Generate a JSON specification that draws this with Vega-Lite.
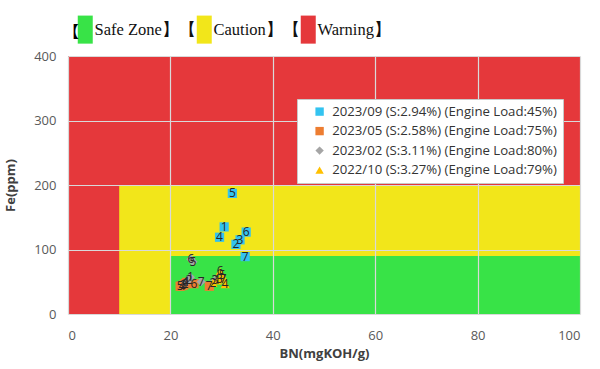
{
  "$schema": "https://vega.github.io/schema/vega-lite/v6.json",
  "width": 512,
  "height": 258,
  "autosize": {"type": "none"},
  "padding": {"left": 68, "top": 56, "right": 20, "bottom": 55},
  "background": "white",
  "config": {"view": {"stroke": null}},
  "datasets": {
    "zones": [
      {"zone": "Warning", "x0": 0, "x1": 100, "y0": 0, "y1": 400},
      {"zone": "Caution", "x0": 10, "x1": 100, "y0": 0, "y1": 200},
      {"zone": "Safe Zone", "x0": 20, "x1": 100, "y0": 0, "y1": 90}
    ],
    "pts": [
      {"s": "2023/09 (S:2.94%) (Engine Load:45%)", "n": 1, "bn": 30.5, "fe": 135},
      {"s": "2023/09 (S:2.94%) (Engine Load:45%)", "n": 2, "bn": 32.8, "fe": 108},
      {"s": "2023/09 (S:2.94%) (Engine Load:45%)", "n": 3, "bn": 33.6, "fe": 115},
      {"s": "2023/09 (S:2.94%) (Engine Load:45%)", "n": 4, "bn": 29.6, "fe": 119},
      {"s": "2023/09 (S:2.94%) (Engine Load:45%)", "n": 5, "bn": 32.1, "fe": 187},
      {"s": "2023/09 (S:2.94%) (Engine Load:45%)", "n": 6, "bn": 34.8, "fe": 127},
      {"s": "2023/09 (S:2.94%) (Engine Load:45%)", "n": 7, "bn": 34.6, "fe": 89},
      {"s": "2023/05 (S:2.58%) (Engine Load:75%)", "n": 1, "bn": 23.2, "fe": 49},
      {"s": "2023/05 (S:2.58%) (Engine Load:75%)", "n": 2, "bn": 22.9, "fe": 47},
      {"s": "2023/05 (S:2.58%) (Engine Load:75%)", "n": 3, "bn": 22.6, "fe": 45},
      {"s": "2023/05 (S:2.58%) (Engine Load:75%)", "n": 4, "bn": 22.3, "fe": 44},
      {"s": "2023/05 (S:2.58%) (Engine Load:75%)", "n": 5, "bn": 21.9, "fe": 43},
      {"s": "2023/05 (S:2.58%) (Engine Load:75%)", "n": 6, "bn": 24.6, "fe": 47},
      {"s": "2023/05 (S:2.58%) (Engine Load:75%)", "n": 7, "bn": 27.6, "fe": 43},
      {"s": "2023/02 (S:3.11%) (Engine Load:80%)", "n": 1, "bn": 23.9, "fe": 57},
      {"s": "2023/02 (S:3.11%) (Engine Load:80%)", "n": 2, "bn": 23.6, "fe": 53},
      {"s": "2023/02 (S:3.11%) (Engine Load:80%)", "n": 3, "bn": 28.7, "fe": 52},
      {"s": "2023/02 (S:3.11%) (Engine Load:80%)", "n": 4, "bn": 23.0, "fe": 49},
      {"s": "2023/02 (S:3.11%) (Engine Load:80%)", "n": 5, "bn": 24.4, "fe": 81},
      {"s": "2023/02 (S:3.11%) (Engine Load:80%)", "n": 6, "bn": 24.0, "fe": 85},
      {"s": "2023/02 (S:3.11%) (Engine Load:80%)", "n": 7, "bn": 26.0, "fe": 50},
      {"s": "2022/10 (S:3.27%) (Engine Load:79%)", "n": 1, "bn": 29.2, "fe": 52},
      {"s": "2022/10 (S:3.27%) (Engine Load:79%)", "n": 2, "bn": 28.3, "fe": 48},
      {"s": "2022/10 (S:3.27%) (Engine Load:79%)", "n": 3, "bn": 29.6, "fe": 54},
      {"s": "2022/10 (S:3.27%) (Engine Load:79%)", "n": 4, "bn": 30.7, "fe": 46},
      {"s": "2022/10 (S:3.27%) (Engine Load:79%)", "n": 5, "bn": 30.1, "fe": 60},
      {"s": "2022/10 (S:3.27%) (Engine Load:79%)", "n": 6, "bn": 29.7, "fe": 66},
      {"s": "2022/10 (S:3.27%) (Engine Load:79%)", "n": 7, "bn": 30.3, "fe": 55}
    ]
  },
  "layer": [
    {
      "data": {"name": "zones"},
      "mark": {"type": "rect"},
      "encoding": {
        "x": {
          "field": "x0", "type": "quantitative",
          "scale": {"domain": [0, 100], "nice": false},
          "axis": {
            "title": "BN(mgKOH/g)", "values": [0, 20, 40, 60, 80, 100],
            "grid": true, "gridColor": "#D9D9D9", "gridWidth": 1.2,
            "domain": false, "ticks": false, "zindex": 1,
            "labelFont": "Open Sans", "labelFontSize": 13, "labelColor": "#595959", "labelPadding": 15,
            "titleFont": "Open Sans", "titleFontSize": 13, "titleFontWeight": "bold", "titleColor": "#404040", "titlePadding": 5
          }
        },
        "x2": {"field": "x1"},
        "y": {
          "field": "y0", "type": "quantitative",
          "scale": {"domain": [0, 400], "nice": false},
          "axis": {
            "title": "Fe(ppm)", "values": [0, 100, 200, 300, 400],
            "grid": true, "gridColor": "#D9D9D9", "gridWidth": 1.2,
            "domain": false, "ticks": false, "zindex": 1,
            "labelFont": "Open Sans", "labelFontSize": 13, "labelColor": "#595959", "labelPadding": 12,
            "titleFont": "Open Sans", "titleFontSize": 13, "titleFontWeight": "bold", "titleColor": "#404040", "titlePadding": 16
          }
        },
        "y2": {"field": "y1"},
        "fill": {
          "field": "zone", "type": "nominal",
          "scale": {"domain": ["Safe Zone", "Caution", "Warning"], "range": ["#38E347", "#F2E61A", "#E5383B"]},
          "legend": {
            "orient": "none", "legendX": -5, "legendY": -35, "direction": "horizontal", "zindex": 2,
            "title": "【", "titleOrient": "left", "titleFont": "Noto Sans CJK JP", "titleFontSize": 16,
            "titleFontWeight": "normal", "titleColor": "#000", "titlePadding": -3,
            "labelFont": "Liberation Serif", "labelFontSize": 16.5, "labelColor": "#111",
            "labelExpr": "datum.label == 'Warning' ? 'Warning】' : datum.label + '】【'",
            "symbolType": "M-1,-1.87H1V1.87H-1Z", "symbolSize": 225, "symbolStrokeWidth": 0,
            "symbolOpacity": 1, "labelOffset": 1, "columnPadding": 0, "padding": 0, "labelLimit": 300
          }
        }
      }
    },
    {
      "data": {"name": "pts"},
      "mark": {"type": "point", "filled": true, "opacity": 1, "size": 85},
      "encoding": {
        "x": {"field": "bn", "type": "quantitative"},
        "y": {"field": "fe", "type": "quantitative"},
        "color": {
          "field": "s", "type": "nominal",
          "scale": {
            "domain": ["2023/09 (S:2.94%) (Engine Load:45%)", "2023/05 (S:2.58%) (Engine Load:75%)", "2023/02 (S:3.11%) (Engine Load:80%)", "2022/10 (S:3.27%) (Engine Load:79%)"],
            "range": ["#33C3F0", "#ED7D31", "#A5A5A5", "#FFC000"]
          },
          "legend": {
            "orient": "none", "legendX": 229, "legendY": 43, "title": null, "zindex": 2,
            "fillColor": "white", "strokeColor": "#C8C8C8", "padding": 6,
            "labelFont": "Open Sans", "labelFontSize": 13.2, "labelColor": "#333", "labelLimit": 400,
            "symbolSize": 70, "rowPadding": 5.5, "symbolOffset": 10, "labelOffset": 6, "symbolStrokeWidth": 0
          }
        },
        "shape": {
          "field": "s", "type": "nominal",
          "scale": {
            "domain": ["2023/09 (S:2.94%) (Engine Load:45%)", "2023/05 (S:2.58%) (Engine Load:75%)", "2023/02 (S:3.11%) (Engine Load:80%)", "2022/10 (S:3.27%) (Engine Load:79%)"],
            "range": ["square", "square", "diamond", "triangle-up"]
          }
        }
      }
    },
    {
      "data": {"name": "pts"},
      "mark": {"type": "text", "font": "Open Sans", "fontSize": 12, "color": "#262626", "baseline": "middle", "align": "center"},
      "encoding": {
        "x": {"field": "bn", "type": "quantitative"},
        "y": {"field": "fe", "type": "quantitative"},
        "text": {"field": "n", "type": "nominal"}
      }
    }
  ]
}
